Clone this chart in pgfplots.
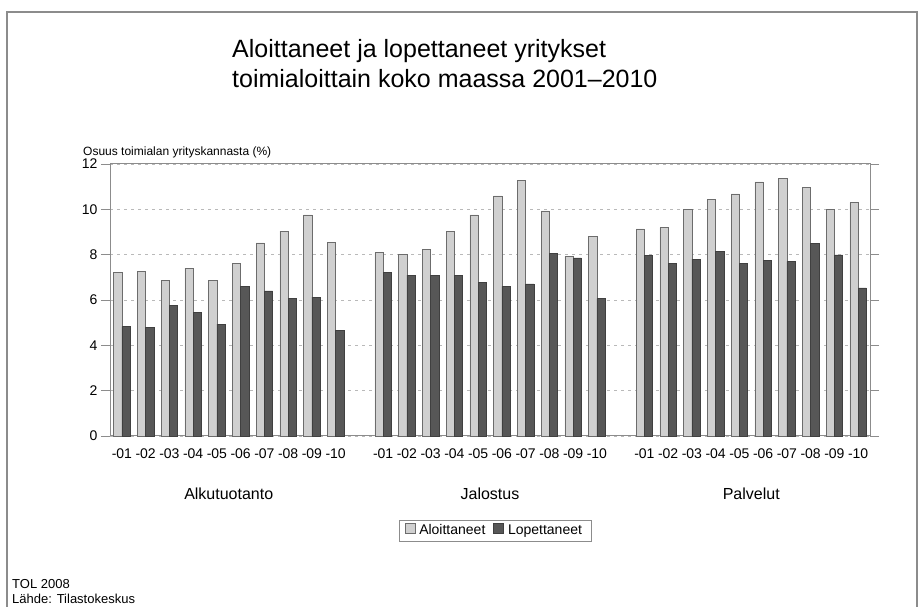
\documentclass[border=0pt]{standalone}
\usepackage{fontspec}
\setmainfont{Liberation Sans}
\usepackage{pgfplots}
\pgfplotsset{compat=1.18}
\definecolor{aloit}{HTML}{D0D0D0}
\definecolor{lopet}{HTML}{575757}
\definecolor{frame}{HTML}{8C8C8C}

\begin{document}
\begin{tikzpicture}
\useasboundingbox (0,0) rectangle (922pt,607pt);
% outer frame
\draw[frame, line width=1.2pt] (7pt,0pt) -- (7pt,595pt) -- (917pt,595pt) -- (917pt,0pt);
\node[anchor=north west, align=left, inner sep=0pt, font=\fontsize{25}{30}\selectfont]
  at (232pt,568pt) {Aloittaneet ja lopettaneet yritykset\\toimialoittain koko maassa 2001--2010};
\node[anchor=base west, inner sep=0pt, font=\fontsize{12}{14}\selectfont]
  at (83pt,451pt) {Osuus toimialan yrityskannasta (\%)};

\begin{axis}[
    at={(110pt,171pt)}, anchor=south west,
    width=760pt, height=272pt, scale only axis,
    ybar=0pt, bar width=8.3pt,
    xmin=-0.5, xmax=31.5,
    ymin=0, ymax=12,
    ytick={0,2,4,6,8,10,12},
    xtick={0,1,2,3,4,5,6,7,8,9,11,12,13,14,15,16,17,18,19,20,22,23,24,25,26,27,28,29,30,31},
    xticklabels={-01,-02,-03,-04,-05,-06,-07,-08,-09,-10,
                 -01,-02,-03,-04,-05,-06,-07,-08,-09,-10,
                 -01,-02,-03,-04,-05,-06,-07,-08,-09,-10},
    xtick style={draw=none},
    ytick style={frame, line width=0.8pt},
    tick align=outside, major tick length=9pt,
    axis line style={frame, line width=1pt},
    ymajorgrids=true,
    grid style={gray!55, dash pattern=on 3pt off 4pt, line width=0.6pt},
    /pgf/number format/assume math mode=true,
    ticklabel style={font=\fontsize{14}{16}\selectfont},
    clip=false,
    legend columns=2,
    legend style={at={(0.507,-0.349)}, anchor=center, draw=frame,
      font=\fontsize{14}{16}\selectfont, inner xsep=5pt, inner ysep=2pt,
      nodes={text height=10pt, text depth=3pt, inner xsep=4pt},
      /tikz/every even column/.append style={column sep=4pt}},
    legend image code/.code={\draw[#1] (0pt,-2pt) rectangle (10pt,8pt);},
]
\addplot[fill=aloit, draw=gray!85!black, line width=0.6pt] coordinates {
  (0,7.21) (1,7.25) (2,6.88) (3,7.41) (4,6.87) (5,7.62) (6,8.52) (7,9.04) (8,9.75) (9,8.54)
  (11,8.09) (12,8.02) (13,8.24) (14,9.04) (15,9.75) (16,10.59) (17,11.28) (18,9.93) (19,7.92) (20,8.80)
  (22,9.14) (23,9.19) (24,10.01) (25,10.44) (26,10.68) (27,11.21) (28,11.37) (29,10.95) (30,10.00) (31,10.30)
};
\addplot[fill=lopet, draw=black!75, line width=0.6pt] coordinates {
  (0,4.82) (1,4.79) (2,5.76) (3,5.45) (4,4.93) (5,6.60) (6,6.40) (7,6.07) (8,6.13) (9,4.67)
  (11,7.21) (12,7.10) (13,7.08) (14,7.08) (15,6.78) (16,6.60) (17,6.71) (18,8.04) (19,7.86) (20,6.06)
  (22,7.96) (23,7.61) (24,7.80) (25,8.15) (26,7.62) (27,7.74) (28,7.70) (29,8.51) (30,7.99) (31,6.53)
};
\legend{Aloittaneet, Lopettaneet}
\node[font=\fontsize{16}{18}\selectfont] at (axis cs:4.5,-2.56) {Alkutuotanto};
\node[font=\fontsize{16}{18}\selectfont] at (axis cs:15.5,-2.56) {Jalostus};
\node[font=\fontsize{16}{18}\selectfont] at (axis cs:26.5,-2.56) {Palvelut};
\end{axis}

\node[anchor=base west, inner sep=0pt, font=\fontsize{13}{15}\selectfont] at (12pt,18pt) {TOL 2008};
\node[anchor=base west, inner sep=0pt, font=\fontsize{13}{15}\selectfont] at (12pt,3pt) {Lähde: Tilastokeskus};
\end{tikzpicture}
\end{document}
